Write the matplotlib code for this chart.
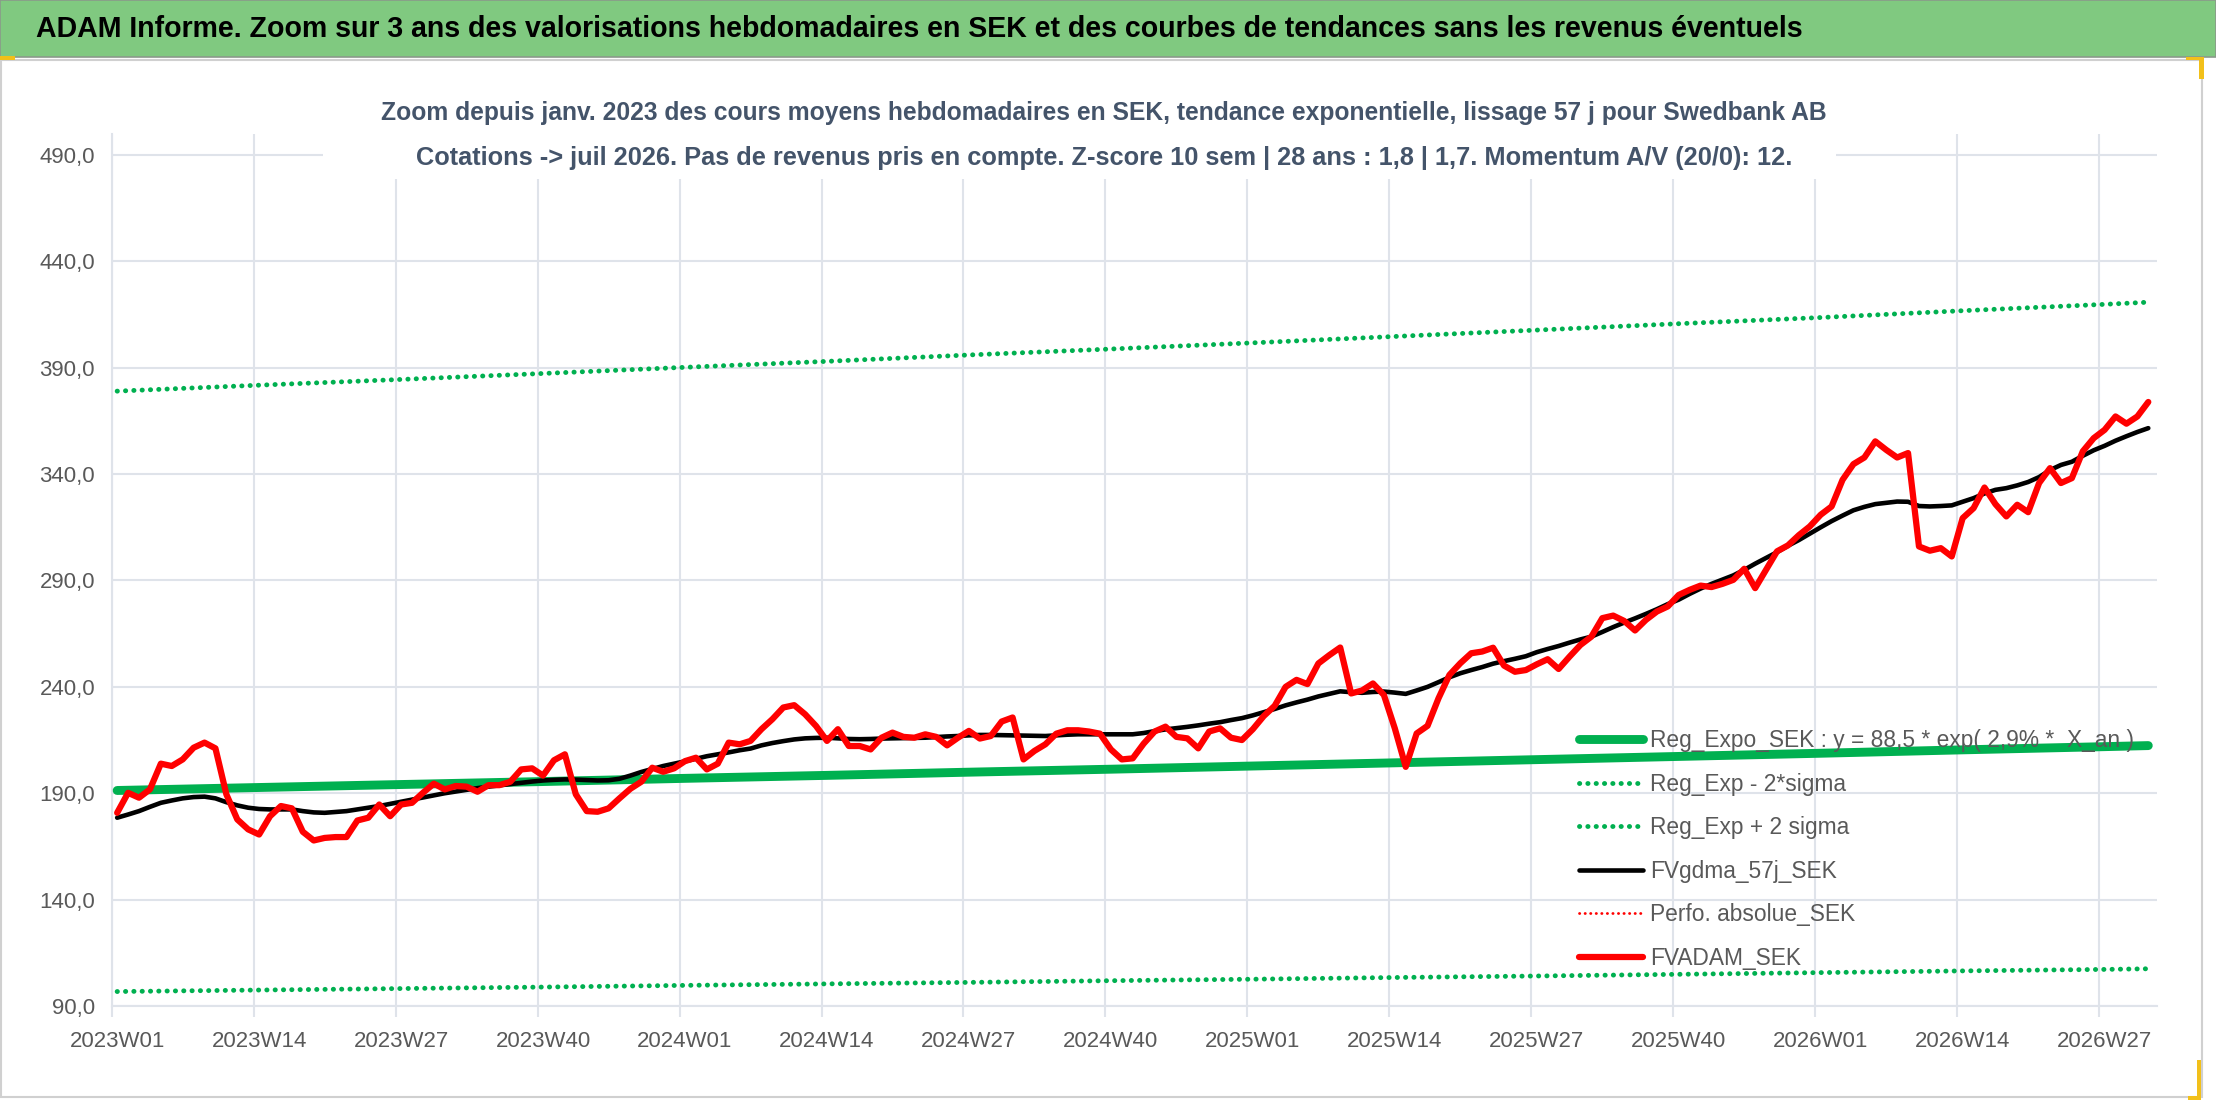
import matplotlib
matplotlib.use('Agg')
import matplotlib.pyplot as plt
from matplotlib.patches import Rectangle
import numpy as np

W, H, DPI = 2216, 1102, 100

title = ("ADAM Informe. Zoom sur 3 ans des valorisations hebdomadaires en SEK "
         "et des courbes de tendances sans les revenus éventuels")
sub1 = ("Zoom depuis janv. 2023 des cours moyens hebdomadaires en SEK, tendance "
        "exponentielle, lissage 57 j pour Swedbank AB")
sub2 = ("Cotations -> juil 2026. Pas de revenus pris en compte. Z-score 10 sem | "
        "28 ans : 1,8 | 1,7. Momentum A/V (20/0): 12.")

tick_labels = ['2023W01', '2023W14', '2023W27', '2023W40',
               '2024W01', '2024W14', '2024W27', '2024W40',
               '2025W01', '2025W14', '2025W27', '2025W40',
               '2026W01', '2026W14', '2026W27']
y_ticks = [90, 140, 190, 240, 290, 340, 390, 440, 490]

# weekly values, 2023W01 .. 2026W31
fvadam = [180.8, 190.2, 187.9, 191.8, 203.9, 202.8, 205.9, 211.4, 213.8, 211.1,
          189.5, 177.7, 173.0, 170.6, 179.2, 184.0, 182.9, 171.9, 167.8, 169.0,
          169.4, 169.4, 177.2, 178.5, 184.7, 179.2, 184.7, 185.5, 190.2, 194.5,
          191.8, 193.4, 193.1, 190.7, 193.8, 193.8, 195.4, 201.2, 201.7, 198.3,
          205.5, 208.3, 189.5, 181.6, 181.3, 182.9, 187.6, 192.1, 195.4, 202.0,
          200.1, 201.7, 205.1, 206.7, 201.2, 203.9, 213.8, 213.0, 214.6, 220.1,
          224.8, 230.3, 231.4, 227.1, 221.6, 214.6, 220.1, 212.2, 212.2, 210.6,
          216.1, 218.5, 216.5, 216.1, 217.7, 216.5, 212.5, 216.1, 219.3, 215.7,
          216.9, 223.7, 225.6, 205.9, 209.9, 213.0, 218.0, 219.6, 219.6, 219.0,
          218.0, 210.6, 205.9, 206.4, 213.3, 219.0, 221.3, 216.5, 215.8, 211.1,
          219.0, 220.5, 216.1, 215.0, 220.1, 226.3, 231.1, 240.0, 243.3, 241.3,
          251.0, 254.9, 258.5, 236.9, 238.3, 241.6, 236.2, 220.5, 202.4, 218.1,
          221.7, 234.6, 245.6, 251.1, 255.8, 256.6, 258.4, 250.0, 247.1, 247.9,
          250.6, 253.0, 248.4, 254.2, 259.7, 263.6, 272.3, 273.5, 271.0, 266.5,
          271.5, 275.4, 277.8, 283.2, 285.6, 287.6, 286.9, 288.4, 290.3, 295.5,
          286.4, 295.0, 303.7, 306.5, 311.3, 315.4, 320.9, 324.8, 337.3, 344.7,
          347.8, 355.4, 351.4, 347.8, 349.9, 306.0, 304.0, 305.2, 301.3, 319.3,
          324.0, 333.7, 325.9, 320.1, 325.6, 322.1, 335.8, 342.8, 335.8, 338.1,
          350.7, 356.9, 360.8, 367.1, 363.7, 367.1, 373.9]

fvgdma = [178.5, 180.0, 181.6, 183.6, 185.5, 186.6, 187.6, 188.2, 188.4, 187.6,
          185.8, 184.3, 183.2, 182.6, 182.4, 182.4, 182.4, 181.6, 181.0, 180.8,
          181.2, 181.6, 182.4, 183.2, 184.0, 185.0, 186.0, 187.0, 188.0, 189.0,
          190.0, 190.8, 191.6, 192.4, 193.1, 193.7, 194.3, 194.9, 195.5, 196.0,
          196.3, 196.5, 196.4, 196.2, 196.0, 196.1, 196.8, 198.3, 200.0, 201.4,
          202.8, 203.9, 205.0, 206.2, 207.4, 208.3, 209.2, 210.2, 211.0, 212.5,
          213.6, 214.5, 215.3, 215.8, 216.0, 216.1, 215.8, 215.5, 215.4, 215.5,
          215.7, 215.8, 215.9, 216.0, 216.1, 216.4, 216.7, 216.9, 217.2, 217.4,
          217.4, 217.3, 217.2, 217.1, 217.0, 216.9, 217.2, 217.5, 217.7, 217.7,
          217.7, 217.7, 217.7, 217.7, 218.3, 219.2, 220.0, 220.6, 221.2, 221.9,
          222.7, 223.4, 224.4, 225.3, 226.6, 228.1, 229.6, 231.3, 232.7, 234.0,
          235.5, 236.7, 237.9, 237.5, 237.2, 237.6, 237.8, 237.3, 236.7, 238.3,
          240.0, 242.2, 244.5, 246.4, 247.9, 249.3, 250.9, 252.1, 253.2, 254.4,
          256.3, 257.8, 259.2, 260.8, 262.3, 263.6, 265.8, 268.1, 270.2, 272.2,
          274.3, 276.5, 278.9, 281.0, 283.7, 286.2, 288.4, 290.4, 292.4, 295.0,
          297.9, 300.6, 303.3, 306.3, 309.0, 312.0, 315.0, 317.9, 320.5, 323.0,
          324.6, 325.9, 326.5, 327.1, 327.0, 325.0, 324.8, 325.0, 325.3, 327.0,
          328.7, 330.9, 332.6, 333.4, 334.7, 336.3, 338.6, 341.9, 344.3, 345.8,
          348.6, 351.2, 353.3, 355.7, 357.8, 359.8, 361.6]

# regression curves read at quarterly weeks (week index from 2023W01)
reg_weeks = [0, 13, 26, 39, 52, 65, 78, 91, 104, 117, 130, 143, 156, 169, 182, 186]
reg_mid = [191.3, 192.7, 194.1, 195.5, 197.0, 198.4, 199.9, 201.3, 202.8, 204.3,
           205.8, 207.3, 208.8, 210.4, 211.9, 212.4]
reg_low = [96.8, 97.5, 98.2, 98.9, 99.7, 100.4, 101.1, 101.9, 102.6, 103.4,
           104.1, 104.9, 105.7, 106.5, 107.2, 107.5]
reg_high = [379.0, 381.8, 384.5, 387.3, 390.2, 393.0, 396.0, 398.8, 401.7, 404.7,
            407.7, 410.7, 413.6, 416.8, 419.8, 420.8]

legend_labels = ["Reg_Expo_SEK : y = 88,5 * exp( 2,9% *  X_an )",
                 "Reg_Exp - 2*sigma",
                 "Reg_Exp + 2 sigma",
                 "FVgdma_57j_SEK",
                 "Perfo. absolue_SEK",
                 "FVADAM_SEK"]

FONT = ['Liberation Sans Narrow', 'Liberation Sans', 'DejaVu Sans']
plt.rcParams['font.family'] = FONT

GREEN = '#00b050'
RED = '#ff0000'
GRID = '#dfe3ea'
TXT = '#595959'
SUBC = '#44546a'

fig = plt.figure(figsize=(W / DPI, H / DPI), dpi=DPI)
fig.patch.set_facecolor('white')


def fx(x):
    return x / W


def fy(y):
    return 1 - y / H


def frect(x, y, w, h, **kw):
    r = Rectangle((fx(x), fy(y + h)), w / W, h / H, transform=fig.transFigure, **kw)
    fig.add_artist(r)
    return r


# outer frame and title bar
frect(1, 60, 2201, 1037, facecolor='white', edgecolor='#d0d0d0', lw=1.5, zorder=-5)
frect(0, 0, W, 57, facecolor='#80c980', edgecolor='#8a9a8a', lw=1.2, zorder=-4)
for (x, y, w, h) in [(0, 56, 15, 4), (2199, 57, 5, 22), (2186, 57, 18, 3),
                     (2197, 1060, 4, 40), (2188, 1096, 13, 4)]:
    frect(x, y, w, h, facecolor='#f2c01a', edgecolor='none', zorder=5)

ax = fig.add_axes([fx(111.7), fy(1006), 2045 / W, (1006 - 133.7) / H])
ax.set_xlim(-0.5, 186.77)
ax.set_ylim(90, 500)

DOT = (0, (0.05, 1.66))
weeks = np.arange(len(fvadam))
l_reg, = ax.plot(reg_weeks, reg_mid, color=GREEN, lw=6.4, solid_capstyle='round', zorder=3)
l_low, = ax.plot(reg_weeks, reg_low, color=GREEN, lw=3.5, linestyle=DOT,
                 dash_capstyle='round', zorder=3)
l_high, = ax.plot(reg_weeks, reg_high, color=GREEN, lw=3.5, linestyle=DOT,
                  dash_capstyle='round', zorder=3)
l_gdma, = ax.plot(weeks, fvgdma, color='black', lw=3.3, solid_joinstyle='round',
                  solid_capstyle='round', zorder=4)
l_perf, = ax.plot([], [], color=RED, lw=2.0, linestyle=(0, (0.1, 1.9)),
                  dash_capstyle='round')
l_adam, = ax.plot(weeks, fvadam, color=RED, lw=4.5, solid_joinstyle='round',
                  solid_capstyle='round', zorder=5)

# axes styling
for s in ['top', 'right']:
    ax.spines[s].set_visible(False)
for s in ['left', 'bottom']:
    ax.spines[s].set_color(GRID)
    ax.spines[s].set_linewidth(1.5)
ax.set_yticks(y_ticks)
ax.set_yticklabels([f"{v:.1f}".replace('.', ',') for v in y_ticks])
ax.tick_params(axis='y', length=0, pad=12, labelsize=16, labelcolor=TXT)
ax.yaxis.grid(True, color=GRID, lw=1.5)

n_lab = len(tick_labels)
ax.set_xticks([13 * k - 0.5 for k in range(n_lab)])
ax.set_xticklabels([''] * n_lab)
ax.set_xticks([13 * k for k in range(n_lab)], minor=True)
ax.set_xticklabels(tick_labels, minor=True)
ax.tick_params(axis='x', which='major', length=8, width=1.5, color=GRID)
ax.tick_params(axis='x', which='minor', length=0, pad=18, labelsize=16, labelcolor=TXT)
ax.xaxis.grid(True, which='major', color=GRID, lw=1.5)
ax.set_axisbelow(True)

# white box behind the chart title
frect(323, 62, 1513, 117, facecolor='white', edgecolor='none', zorder=1)

renderer = fig.canvas.get_renderer()


def fit(t, target):
    w = t.get_window_extent(renderer).width
    t.set_fontsize(t.get_fontsize() * target / w)


t0 = fig.text(fx(36), fy(29), title, fontsize=22, weight='bold', color='black',
              ha='left', va='center', zorder=6)
fit(t0, 1772)
t1 = fig.text(fx(1104), fy(113), sub1, fontsize=18, weight='bold', color=SUBC,
              ha='center', va='center', zorder=6)
fit(t1, 1449)
t2 = fig.text(fx(1104), fy(158), sub2, fontsize=18, weight='bold',
              color=SUBC, ha='center', va='center', zorder=6)
fit(t2, 1383)

handles = [l_reg, l_low, l_high, l_gdma, l_perf, l_adam]


def make_legend(fs):
    return ax.legend(handles, legend_labels, loc='upper left',
                     bbox_to_anchor=(fx(1579), fy(729)), bbox_transform=fig.transFigure,
                     frameon=False, fontsize=fs, labelcolor=TXT,
                     handlelength=64 / (fs * DPI / 72), handletextpad=0.3,
                     labelspacing=0.9, borderpad=0, borderaxespad=0)


leg = make_legend(17)
fig.canvas.draw()
w0 = leg.get_texts()[0].get_window_extent(renderer).width
fs = 17 * 486 / w0
leg.remove()
leg = make_legend(fs)

fig.savefig('out.png', dpi=DPI, facecolor='white')
